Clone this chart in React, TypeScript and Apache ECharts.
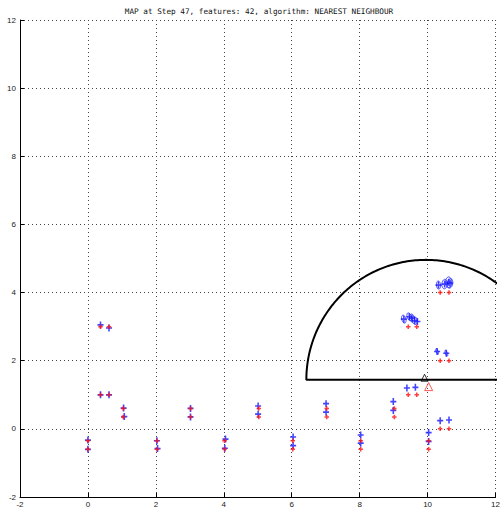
import React, { useEffect, useRef } from "react";
import * as echarts from "echarts";

const titleText = "MAP at Step 47, features: 42, algorithm: NEAREST NEIGHBOUR";
const axisMin = -2;
const axisMax = 12;
const axisStep = 2;

// true landmark positions (red +)
const trueX = [0, 0, 0.37, 0.62, 0.37, 0.62, 1.04, 1.04, 2.03, 2.03, 3.02, 3.02, 4.02, 4.02, 5.03, 5.03, 6.03, 6.03, 7.03, 7.03, 8.03, 8.03, 9.02, 9.02, 9.43, 9.68, 10.03, 10.03, 10.37, 10.63, 10.37, 10.63, 9.43, 9.68, 10.37, 10.63];
const trueY = [-0.35, -0.6, 3.0, 3.0, 1.0, 1.0, 0.6, 0.35, -0.35, -0.6, 0.6, 0.35, -0.35, -0.6, 0.6, 0.35, -0.35, -0.6, 0.6, 0.35, -0.35, -0.6, 0.6, 0.35, 1.0, 1.0, -0.35, -0.6, 0.0, 0.0, 2.0, 2.0, 3.0, 3.0, 4.0, 4.0];

// estimated landmark positions (blue +)
const estX = [0, 0, 0.37, 0.62, 0.37, 0.62, 1.05, 1.07, 2.03, 2.05, 3.02, 3.02, 4.05, 4.03, 5.01, 5.01, 6.04, 6.04, 7.01, 7.01, 8.03, 8.03, 8.99, 8.99, 9.39, 9.64, 10.03, 10.03, 10.37, 10.63, 10.28, 10.55, 9.30, 9.46, 9.54, 9.62, 9.70, 10.32, 10.5, 10.62, 10.66];
const estY = [-0.33, -0.6, 3.05, 2.96, 1.0, 1.0, 0.61, 0.36, -0.35, -0.58, 0.6, 0.35, -0.3, -0.57, 0.67, 0.43, -0.24, -0.49, 0.74, 0.49, -0.18, -0.42, 0.8, 0.54, 1.2, 1.22, -0.11, -0.37, 0.24, 0.26, 2.27, 2.22, 3.22, 3.29, 3.25, 3.18, 3.15, 4.22, 4.25, 4.30, 4.27];

// covariance ellipses: centre, semi-axes (data units), orientation (deg)
const ellX = [10.32, 10.5, 10.62, 10.66, 9.30, 9.46, 9.54, 9.62, 10.28, 10.55];
const ellY = [4.22, 4.25, 4.30, 4.27, 3.22, 3.29, 3.25, 3.18, 2.27, 2.22];
const ellA = [0.12, 0.14, 0.16, 0.14, 0.12, 0.12, 0.12, 0.12, 0.09, 0.09];
const ellB = [0.06, 0.08, 0.09, 0.08, 0.06, 0.06, 0.07, 0.07, 0.03, 0.03];
const ellAng = [95, 85, 90, 80, 105, 110, 100, 100, 110, 110];

// robot poses
const robotEst = [9.91, 1.5];
const robotTrue = [10.03, 1.24];

// sensor range semicircle
const sensorCentre = [9.95, 1.44];
const sensorRange = 3.52;

const PLUS_PATH = "path://M0,3.8H10V6.2H0Z M3.7,0H6.3V10H3.7Z";
const PLUS_RED = "path://M0,3.3H10V6.7H0Z M3.3,0H6.7V10H3.3Z";

export default function App() {
  const ref = useRef<HTMLDivElement>(null);
  useEffect(() => {
    document.body.style.margin = "0";
    const chart = echarts.init(ref.current!, null, { renderer: "svg" });

    const sensorPts: number[][] = [];
    for (let i = 0; i <= 180; i++) {
      const t = (i * Math.PI) / 180;
      sensorPts.push([sensorCentre[0] + sensorRange * Math.cos(t), sensorCentre[1] + sensorRange * Math.sin(t)]);
    }
    sensorPts.push([sensorCentre[0] + sensorRange, sensorCentre[1]]);

    const labelStyle = { fontFamily: "Liberation Sans", fontSize: 8, color: "#222" };
    const axisCommon = {
      type: "value" as const,
      min: axisMin,
      max: axisMax,
      interval: axisStep,
      axisLine: { show: true, onZero: false, lineStyle: { color: "#000", width: 1 } },
      axisTick: { show: true, inside: true, length: 4, lineStyle: { color: "#000" } },
      splitLine: { show: true, lineStyle: { color: "#444", type: [1, 3] as any, width: 1 } },
    };

    chart.setOption({
      animation: false,
      backgroundColor: "#fff",
      grid: { left: 20, right: 5, top: 20, bottom: 13, containLabel: false },
      graphic: [
        {
          type: "text",
          x: 259,
          y: 11.5,
          style: {
            text: titleText,
            align: "center",
            verticalAlign: "middle",
            font: "7.7px 'DejaVu Sans Mono'",
            fill: "#111",
          },
        },
      ],
      xAxis: {
        ...axisCommon,
        axisLabel: { ...labelStyle, margin: 3 },
      },
      yAxis: {
        ...axisCommon,
        axisLabel: { ...labelStyle, margin: 4 },
      },
      series: [
        {
          type: "line",
          data: sensorPts,
          symbol: "none",
          clip: true,
          lineStyle: { color: "#000", width: 2 },
          z: 2,
        },
        {
          type: "custom",
          data: ellX.map((x, i) => [x, ellY[i], ellA[i], ellB[i], ellAng[i]]),
          clip: true,
          renderItem: (params: any, api: any) => {
            const cx = api.value(0);
            const cy = api.value(1);
            const a = api.value(2);
            const b = api.value(3);
            const ang = (api.value(4) * Math.PI) / 180;
            const pts: number[][] = [];
            for (let k = 0; k <= 40; k++) {
              const t = (k / 40) * Math.PI * 2;
              const dx = a * Math.cos(t);
              const dy = b * Math.sin(t);
              pts.push(api.coord([cx + dx * Math.cos(ang) - dy * Math.sin(ang), cy + dx * Math.sin(ang) + dy * Math.cos(ang)]));
            }
            return { type: "polygon", shape: { points: pts }, style: { fill: "none", stroke: "#1a1aff", lineWidth: 0.8 } };
          },
          z: 3,
        },
        {
          type: "scatter",
          data: estX.map((x, i) => [x, estY[i]]),
          symbol: PLUS_PATH,
          symbolSize: [6, 7],
          itemStyle: { color: "#1414ff" },
          z: 4,
        },
        {
          type: "scatter",
          data: trueX.map((x, i) => [x, trueY[i]]),
          symbol: PLUS_RED,
          symbolSize: 4.5,
          itemStyle: { color: "#ff1010" },
          z: 5,
        },
        {
          type: "scatter",
          data: [robotEst],
          symbol: "triangle",
          symbolSize: 7,
          itemStyle: { color: "rgba(0,0,0,0)", borderColor: "#000", borderWidth: 1 },
          z: 6,
        },
        {
          type: "scatter",
          data: [robotTrue],
          symbol: "triangle",
          symbolSize: 8,
          itemStyle: { color: "rgba(0,0,0,0)", borderColor: "#ff3030", borderWidth: 1 },
          z: 6,
        },
      ],
    });
    return () => chart.dispose();
  }, []);
  return <div ref={ref} style={{ width: 503, height: 510 }} />;
}
